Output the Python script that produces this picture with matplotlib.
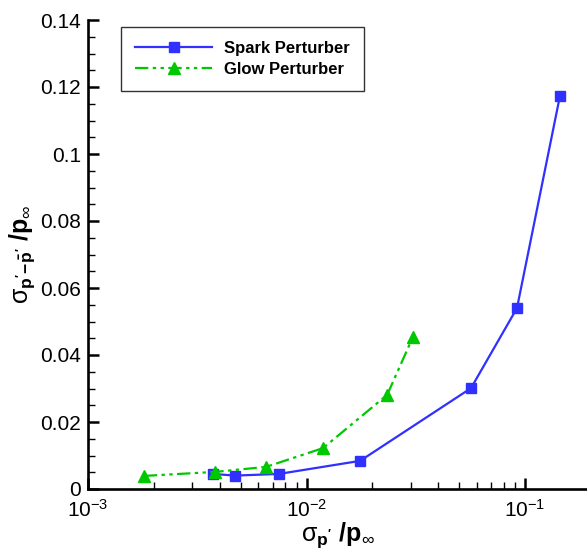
import numpy as np
import matplotlib
matplotlib.use('Agg')
import matplotlib.pyplot as plt
from matplotlib.ticker import LogLocator, MultipleLocator, NullFormatter

# Spark perturber data
spark_x = [0.00373, 0.00471, 0.00748, 0.0176, 0.0566, 0.0919, 0.1445]
spark_y = [0.0045, 0.0040, 0.0045, 0.0084, 0.0301, 0.0540, 0.1173]

# Glow perturber data
glow_x = [0.00180, 0.00381, 0.00653, 0.0119, 0.0234, 0.0307]
glow_y = [0.0039, 0.0051, 0.0066, 0.0122, 0.0281, 0.0454]

yticks = [0, 0.02, 0.04, 0.06, 0.08, 0.1, 0.12, 0.14]
ytick_labels = ['0', '0.02', '0.04', '0.06', '0.08', '0.1', '0.12', '0.14']

plt.rcParams['font.family'] = ['Liberation Sans', 'DejaVu Sans']
plt.rcParams['mathtext.fontset'] = 'custom'
plt.rcParams['mathtext.rm'] = 'Liberation Sans'
plt.rcParams['mathtext.bf'] = 'Liberation Sans:bold'
plt.rcParams['mathtext.it'] = 'Liberation Sans:italic'
plt.rcParams['mathtext.default'] = 'regular'

fig = plt.figure(figsize=(5.87, 5.50), dpi=100)
ax = fig.add_axes([88/587, 1-489/550, 1-88/587, 469/550])

ax.plot(spark_x, spark_y, color='#3030ff', lw=1.6, marker='s', ms=7.8,
        label='Spark Perturber')
ax.plot(glow_x, glow_y, color='#00c800', lw=1.6, marker='^', ms=9,
        dashes=(6, 2, 1.5, 2, 1.5, 2), label='Glow Perturber')

ax.set_xscale('log')
ax.set_xlim(1e-3, 10**(-3 + (587-88)/218.5))
ax.set_ylim(0, 0.14)

ax.xaxis.set_major_locator(LogLocator(base=10, numticks=10))
ax.xaxis.set_minor_locator(LogLocator(base=10, subs=np.arange(2, 10), numticks=20))
ax.xaxis.set_minor_formatter(NullFormatter())
ax.yaxis.set_minor_locator(MultipleLocator(0.005))
ax.set_yticks(yticks)
ax.set_yticklabels(ytick_labels)

ax.tick_params(which='major', direction='in', length=7.7, width=1.8, labelsize=15, pad=5)
ax.tick_params(which='minor', direction='in', length=4.8, width=1.0)
ax.tick_params(axis='x', pad=7)

for s in ['top', 'right']:
    ax.spines[s].set_visible(False)
for s in ['left', 'bottom']:
    ax.spines[s].set_linewidth(1.9)

# sigma in regular weight, the rest bold
ax.set_xlabel(r"$\sigma_{\mathbf{p^{\prime}}}\ \mathbf{/p}_{\infty}$", fontsize=18, labelpad=0)
ax.set_ylabel(r"$\sigma_{\mathbf{p^{\prime}\!-\!\bar{p}^{\prime}}}\ \mathbf{/p}_{\infty}$", fontsize=18, labelpad=2)

leg = ax.legend(loc='upper left', bbox_to_anchor=((121-88)/499, (489-27)/469),
                prop={'weight': 'bold', 'size': 12}, frameon=True, fancybox=False,
                edgecolor='black', handlelength=4.6, borderpad=0.85, labelspacing=0.35,
                borderaxespad=0, handletextpad=0.75)
leg.get_frame().set_linewidth(1.0)

fig.savefig('out.png', dpi=100)
